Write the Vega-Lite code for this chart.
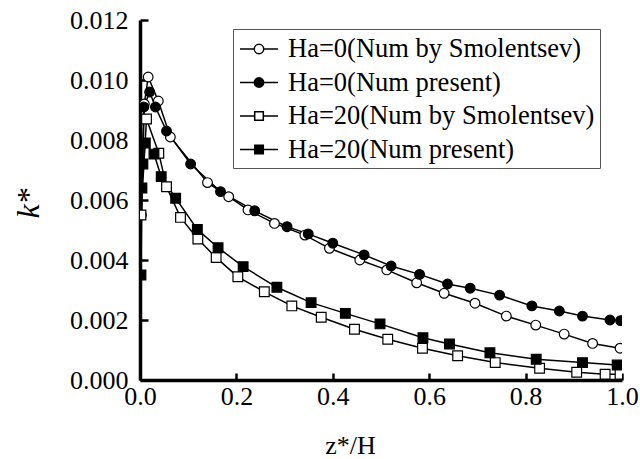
{
  "$schema": "https://vega.github.io/schema/vega-lite/v6.json",
  "autosize": {"type": "none"},
  "padding": {"left": 140, "top": 20, "right": 18, "bottom": 79},
  "width": 482,
  "height": 360,
  "background": "white",
  "config": {
    "view": {"stroke": null},
    "font": "Liberation Serif",
    "axis": {
      "grid": false,
      "domainColor": "black",
      "domainWidth": 3.5,
      "tickColor": "black",
      "tickWidth": 2.5,
      "labelFont": "Liberation Serif",
      "labelFontSize": 26,
      "labelColor": "black",
      "labelOverlap": false,
      "labelFlush": false,
      "titleFont": "Liberation Serif",
      "titleColor": "black",
      "titleFontWeight": "normal"
    },
    "legend": {
      "title": null,
      "orient": "none",
      "legendX": 93,
      "legendY": 9,
      "padding": 5,
      "strokeColor": "#555555",
      "fillColor": "white",
      "symbolSize": 784,
      "symbolOffset": 6,
      "rowPadding": 4.5,
      "labelOffset": 14,
      "labelFont": "Liberation Serif",
      "labelFontSize": 26.5,
      "labelColor": "black",
      "labelLimit": 0
    }
  },
  "datasets": {
    "pts": [
      {"series": "Ha=0(Num by Smolentsev)", "x": 0.003, "k": 0.0055},
      {"series": "Ha=0(Num by Smolentsev)", "x": 0.009, "k": 0.0092},
      {"series": "Ha=0(Num by Smolentsev)", "x": 0.017, "k": 0.0101},
      {"series": "Ha=0(Num by Smolentsev)", "x": 0.038, "k": 0.0093},
      {"series": "Ha=0(Num by Smolentsev)", "x": 0.063, "k": 0.0081},
      {"series": "Ha=0(Num by Smolentsev)", "x": 0.14, "k": 0.00658},
      {"series": "Ha=0(Num by Smolentsev)", "x": 0.184, "k": 0.00611},
      {"series": "Ha=0(Num by Smolentsev)", "x": 0.224, "k": 0.00567},
      {"series": "Ha=0(Num by Smolentsev)", "x": 0.279, "k": 0.00522},
      {"series": "Ha=0(Num by Smolentsev)", "x": 0.342, "k": 0.00483},
      {"series": "Ha=0(Num by Smolentsev)", "x": 0.393, "k": 0.00439},
      {"series": "Ha=0(Num by Smolentsev)", "x": 0.456, "k": 0.0040},
      {"series": "Ha=0(Num by Smolentsev)", "x": 0.512, "k": 0.00367},
      {"series": "Ha=0(Num by Smolentsev)", "x": 0.574, "k": 0.00324},
      {"series": "Ha=0(Num by Smolentsev)", "x": 0.631, "k": 0.00289},
      {"series": "Ha=0(Num by Smolentsev)", "x": 0.695, "k": 0.00256},
      {"series": "Ha=0(Num by Smolentsev)", "x": 0.760, "k": 0.00213},
      {"series": "Ha=0(Num by Smolentsev)", "x": 0.821, "k": 0.00183},
      {"series": "Ha=0(Num by Smolentsev)", "x": 0.880, "k": 0.00153},
      {"series": "Ha=0(Num by Smolentsev)", "x": 0.939, "k": 0.00122},
      {"series": "Ha=0(Num by Smolentsev)", "x": 0.996, "k": 0.00106},
      {"series": "Ha=0(Num present)", "x": 0.003, "k": 0.0064},
      {"series": "Ha=0(Num present)", "x": 0.008, "k": 0.0091},
      {"series": "Ha=0(Num present)", "x": 0.02, "k": 0.0096},
      {"series": "Ha=0(Num present)", "x": 0.032, "k": 0.0091},
      {"series": "Ha=0(Num present)", "x": 0.055, "k": 0.0083},
      {"series": "Ha=0(Num present)", "x": 0.105, "k": 0.0072},
      {"series": "Ha=0(Num present)", "x": 0.167, "k": 0.00628},
      {"series": "Ha=0(Num present)", "x": 0.238, "k": 0.00564},
      {"series": "Ha=0(Num present)", "x": 0.305, "k": 0.00511},
      {"series": "Ha=0(Num present)", "x": 0.349, "k": 0.00487},
      {"series": "Ha=0(Num present)", "x": 0.40, "k": 0.00456},
      {"series": "Ha=0(Num present)", "x": 0.465, "k": 0.00417},
      {"series": "Ha=0(Num present)", "x": 0.521, "k": 0.0038},
      {"series": "Ha=0(Num present)", "x": 0.58, "k": 0.00352},
      {"series": "Ha=0(Num present)", "x": 0.638, "k": 0.0032},
      {"series": "Ha=0(Num present)", "x": 0.685, "k": 0.00306},
      {"series": "Ha=0(Num present)", "x": 0.746, "k": 0.00283},
      {"series": "Ha=0(Num present)", "x": 0.813, "k": 0.00247},
      {"series": "Ha=0(Num present)", "x": 0.870, "k": 0.0023},
      {"series": "Ha=0(Num present)", "x": 0.918, "k": 0.00213},
      {"series": "Ha=0(Num present)", "x": 0.975, "k": 0.0020},
      {"series": "Ha=0(Num present)", "x": 0.997, "k": 0.00198},
      {"series": "Ha=20(Num by Smolentsev)", "x": 0.002, "k": 0.0055},
      {"series": "Ha=20(Num by Smolentsev)", "x": 0.0135, "k": 0.0087},
      {"series": "Ha=20(Num by Smolentsev)", "x": 0.039, "k": 0.00756},
      {"series": "Ha=20(Num by Smolentsev)", "x": 0.055, "k": 0.00644},
      {"series": "Ha=20(Num by Smolentsev)", "x": 0.084, "k": 0.00542},
      {"series": "Ha=20(Num by Smolentsev)", "x": 0.12, "k": 0.0047},
      {"series": "Ha=20(Num by Smolentsev)", "x": 0.158, "k": 0.00408},
      {"series": "Ha=20(Num by Smolentsev)", "x": 0.203, "k": 0.00344},
      {"series": "Ha=20(Num by Smolentsev)", "x": 0.258, "k": 0.00294},
      {"series": "Ha=20(Num by Smolentsev)", "x": 0.315, "k": 0.00247},
      {"series": "Ha=20(Num by Smolentsev)", "x": 0.376, "k": 0.00209},
      {"series": "Ha=20(Num by Smolentsev)", "x": 0.445, "k": 0.00169},
      {"series": "Ha=20(Num by Smolentsev)", "x": 0.514, "k": 0.00136},
      {"series": "Ha=20(Num by Smolentsev)", "x": 0.586, "k": 0.00106},
      {"series": "Ha=20(Num by Smolentsev)", "x": 0.659, "k": 0.00081},
      {"series": "Ha=20(Num by Smolentsev)", "x": 0.737, "k": 0.00058},
      {"series": "Ha=20(Num by Smolentsev)", "x": 0.829, "k": 0.00039},
      {"series": "Ha=20(Num by Smolentsev)", "x": 0.906, "k": 0.00026},
      {"series": "Ha=20(Num by Smolentsev)", "x": 0.965, "k": 0.00019},
      {"series": "Ha=20(Num by Smolentsev)", "x": 0.996, "k": 0.00019},
      {"series": "Ha=20(Num present)", "x": 0.002, "k": 0.0035},
      {"series": "Ha=20(Num present)", "x": 0.004, "k": 0.0064},
      {"series": "Ha=20(Num present)", "x": 0.006, "k": 0.0072},
      {"series": "Ha=20(Num present)", "x": 0.011, "k": 0.0079},
      {"series": "Ha=20(Num present)", "x": 0.029, "k": 0.00753},
      {"series": "Ha=20(Num present)", "x": 0.044, "k": 0.00678},
      {"series": "Ha=20(Num present)", "x": 0.074, "k": 0.00606},
      {"series": "Ha=20(Num present)", "x": 0.119, "k": 0.00502},
      {"series": "Ha=20(Num present)", "x": 0.162, "k": 0.00441},
      {"series": "Ha=20(Num present)", "x": 0.214, "k": 0.00378},
      {"series": "Ha=20(Num present)", "x": 0.284, "k": 0.00309},
      {"series": "Ha=20(Num present)", "x": 0.355, "k": 0.00258},
      {"series": "Ha=20(Num present)", "x": 0.426, "k": 0.00222},
      {"series": "Ha=20(Num present)", "x": 0.498, "k": 0.00187},
      {"series": "Ha=20(Num present)", "x": 0.587, "k": 0.00141},
      {"series": "Ha=20(Num present)", "x": 0.642, "k": 0.0012},
      {"series": "Ha=20(Num present)", "x": 0.726, "k": 0.00091},
      {"series": "Ha=20(Num present)", "x": 0.822, "k": 0.00069},
      {"series": "Ha=20(Num present)", "x": 0.918, "k": 0.00058},
      {"series": "Ha=20(Num present)", "x": 0.99, "k": 0.0005}
    ]
  },
  "data": {"name": "pts"},
  "encoding": {
    "x": {
      "field": "x", "type": "quantitative",
      "scale": {"domain": [0, 1], "nice": false, "zero": false},
      "axis": {
        "values": [0, 0.2, 0.4, 0.6, 0.8, 1.0],
        "format": ".1f",
        "tickSize": -7,
        "labelPadding": 10,
        "title": "z*/H",
        "titleFontSize": 26,
        "titleX": 210,
        "titleY": 73,
        "titleAlign": "center",
        "titleBaseline": "alphabetic"
      }
    },
    "y": {
      "field": "k", "type": "quantitative",
      "scale": {"domain": [0, 0.012], "nice": false, "zero": false},
      "axis": {
        "values": [0, 0.002, 0.004, 0.006, 0.008, 0.010, 0.012],
        "format": ".3f",
        "tickSize": -8,
        "labelPadding": 20,
        "title": "k*",
        "titleFontSize": 32,
        "titleFontStyle": "italic",
        "titleAngle": -90,
        "titleX": -112,
        "titleY": 183,
        "titleAlign": "center",
        "titleBaseline": "middle"
      }
    }
  },
  "layer": [
    {
      "mark": {"type": "line", "color": "black", "strokeWidth": 1.5, "clip": true},
      "encoding": {"detail": {"field": "series"}}
    },
    {
      "mark": {"type": "point", "filled": true, "stroke": "black", "strokeWidth": 1.2, "opacity": 1, "clip": true},
      "encoding": {
        "shape": {
          "field": "series", "type": "nominal",
          "scale": {
            "domain": ["Ha=0(Num present)", "Ha=0(Num by Smolentsev)", "Ha=20(Num present)", "Ha=20(Num by Smolentsev)"],
            "range": ["circle", "circle", "square", "square"]
          },
          "legend": null
        },
        "size": {
          "field": "series", "type": "nominal",
          "scale": {
            "domain": ["Ha=20(Num by Smolentsev)", "Ha=20(Num present)", "Ha=0(Num by Smolentsev)", "Ha=0(Num present)"],
            "range": [94, 94, 121, 121]
          },
          "legend": null
        },
        "fill": {
          "field": "series", "type": "nominal",
          "scale": {
            "domain": ["Ha=0(Num present)", "Ha=0(Num by Smolentsev)", "Ha=20(Num present)", "Ha=20(Num by Smolentsev)"],
            "range": ["black", "white", "black", "white"]
          },
          "legend": null
        }
      }
    },
    {
      "transform": [{"filter": "false"}],
      "mark": {"type": "point", "filled": true, "stroke": "black", "strokeWidth": 1.5, "opacity": 1},
      "encoding": {
        "shape": {
          "field": "series", "type": "nominal",
          "scale": {
            "domain": ["Ha=0(Num by Smolentsev)", "Ha=0(Num present)", "Ha=20(Num by Smolentsev)", "Ha=20(Num present)"],
            "range": [
              "M-1.357,0H-0.336M0.336,0H1.357M0.336,0A0.336,0.336,0,1,1,-0.336,0A0.336,0.336,0,1,1,0.336,0Z",
              "M-1.357,0H-0.336M0.336,0H1.357M0.336,0A0.336,0.336,0,1,1,-0.336,0A0.336,0.336,0,1,1,0.336,0Z",
              "M-1.357,0H-0.307M0.307,0H1.357M-0.307,-0.307H0.307V0.307H-0.307Z",
              "M-1.357,0H-0.307M0.307,0H1.357M-0.307,-0.307H0.307V0.307H-0.307Z"
            ]
          },
          "legend": {
            "encode": {
              "symbols": {
                "size": {"value": 784},
                "stroke": {"value": "black"},
                "strokeWidth": {"value": 1.5},
                "opacity": {"value": 1}
              }
            }
          }
        },
        "fill": {
          "field": "series", "type": "nominal",
          "scale": {
            "domain": ["Ha=0(Num by Smolentsev)", "Ha=0(Num present)", "Ha=20(Num by Smolentsev)", "Ha=20(Num present)"],
            "range": ["white", "black", "white", "black"]
          },
          "legend": {
            "encode": {
              "symbols": {
                "size": {"value": 784},
                "stroke": {"value": "black"},
                "strokeWidth": {"value": 1.5},
                "opacity": {"value": 1}
              }
            }
          }
        }
      }
    }
  ],
  "resolve": {
    "scale": {"shape": "independent", "fill": "independent", "size": "independent"},
    "legend": {"shape": "independent", "fill": "independent", "size": "independent"}
  }
}
